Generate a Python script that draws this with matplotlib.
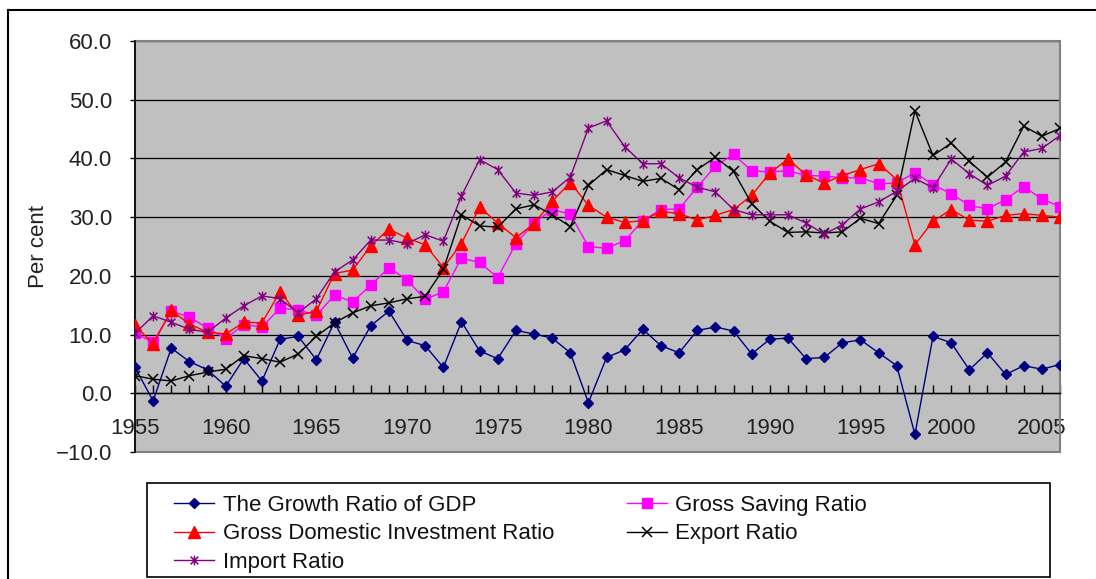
import numpy as np
import matplotlib
matplotlib.use("Agg")
import matplotlib.pyplot as plt
from matplotlib.path import Path
from matplotlib.patches import Rectangle
from matplotlib.lines import Line2D
from matplotlib.ticker import FuncFormatter, MultipleLocator

# ── Data ─────────────────────────────────────────────────────────────────────
years = list(range(1955, 2007))

gdp_growth = [4.4, -1.3, 7.7, 5.4, 4.0, 1.2, 5.9, 2.1, 9.2, 9.7,
              5.7, 12.1, 6.0, 11.5, 14.0, 9.0, 8.1, 4.4, 12.2, 7.2,
              5.9, 10.7, 10.1, 9.4, 6.9, -1.6, 6.1, 7.4, 10.9, 8.1,
              6.9, 10.7, 11.3, 10.6, 6.7, 9.2, 9.4, 5.9, 6.1, 8.6,
              9.1, 6.9, 4.7, -7.0, 9.7, 8.6, 4.0, 6.9, 3.2, 4.7,
              4.1, 4.9]

saving = [10.2, 8.7, 14.0, 13.0, 11.1, 9.3, 11.7, 11.3, 14.5, 14.2,
          13.3, 16.7, 15.6, 18.4, 21.4, 19.3, 16.0, 17.3, 23.0, 22.3,
          19.7, 25.5, 29.0, 31.3, 30.5, 25.0, 24.7, 26.0, 29.4, 31.3,
          31.4, 35.1, 38.7, 40.7, 37.9, 37.7, 37.9, 37.1, 37.0, 36.7,
          36.7, 35.7, 35.8, 37.6, 35.5, 34.0, 32.0, 31.4, 33.0, 35.2,
          33.1, 31.8]

investment = [11.6, 8.4, 14.1, 11.8, 10.4, 10.1, 12.1, 12.0, 17.3, 13.3,
              14.0, 20.4, 21.0, 25.1, 28.0, 26.4, 25.3, 21.4, 25.5, 31.7,
              29.0, 26.5, 28.9, 32.7, 35.9, 32.0, 30.0, 29.1, 29.4, 31.0,
              30.6, 29.5, 30.3, 31.3, 33.7, 37.5, 39.9, 37.2, 35.8, 37.1,
              38.1, 39.1, 36.4, 25.3, 29.3, 31.3, 29.5, 29.3, 30.3, 30.6,
              30.3, 30.0]

export = [3.0, 2.4, 2.1, 3.0, 3.6, 4.1, 6.4, 5.9, 5.3, 6.7,
          9.7, 12.0, 13.7, 14.9, 15.4, 16.1, 16.5, 21.1, 30.4, 28.5,
          28.3, 31.4, 32.1, 30.4, 28.4, 35.4, 38.1, 37.1, 36.1, 36.6,
          34.7, 38.1, 40.2, 37.8, 32.3, 29.3, 27.4, 27.5, 27.3, 27.5,
          29.8, 28.9, 33.7, 48.1, 40.5, 42.6, 39.5, 36.8, 39.4, 45.5,
          43.8, 45.1]

imports = [10.2, 13.2, 12.1, 10.9, 10.4, 12.8, 14.9, 16.6, 16.1, 13.7,
           16.1, 20.7, 22.7, 26.1, 26.1, 25.5, 27.0, 25.9, 33.6, 39.8,
           38.1, 34.1, 33.7, 34.3, 36.8, 45.2, 46.4, 42.0, 39.1, 39.1,
           36.7, 35.1, 34.3, 31.3, 30.4, 30.4, 30.4, 29.0, 27.1, 28.7,
           31.4, 32.6, 34.4, 36.6, 35.0, 39.9, 37.4, 35.4, 37.0, 41.1,
           41.7, 43.9]

labels = ["The Growth Ratio of GDP", "Gross Saving Ratio",
          "Gross Domestic Investment Ratio", "Export Ratio", "Import Ratio"]

# ── Style ────────────────────────────────────────────────────────────────────
plt.rcParams["font.family"] = ["Liberation Sans", "DejaVu Sans"]
plt.rcParams["font.size"] = 16

# Excel-style asterisk: an x with a vertical bar through it
asterisk = Path([(-1, -1), (1, 1), (-1, 1), (1, -1), (0, -1.25), (0, 1.25)],
                [Path.MOVETO, Path.LINETO, Path.MOVETO, Path.LINETO,
                 Path.MOVETO, Path.LINETO])

fig = plt.figure(figsize=(10.96, 5.79), dpi=100)
ax = fig.add_axes([135 / 1096, 1 - 452 / 579, 925 / 1096, 411 / 579])
ax.set_facecolor("#C0C0C0")

lw = 1.0
h_gdp, = ax.plot(years, gdp_growth, color="#000080", lw=lw, marker="D",
                 ms=5.5, label=labels[0], zorder=3)
h_sav, = ax.plot(years, saving, color="#FF00FF", lw=lw, marker="s",
                 ms=6.5, label=labels[1], zorder=3)
h_inv, = ax.plot(years, investment, color="#FF0000", lw=lw, marker="^",
                 ms=8, label=labels[2], zorder=3)
h_exp, = ax.plot(years, export, color="black", lw=lw, marker="x",
                 ms=7, mew=1.1, label=labels[3], zorder=3)
h_imp, = ax.plot(years, imports, color="#800080", lw=lw, marker=asterisk,
                 ms=7, mew=1.1, label=labels[4], zorder=3)

ax.set_xlim(1955, 2006)
ax.set_ylim(-10, 60)

# y axis
ax.yaxis.set_major_locator(MultipleLocator(10))
ax.yaxis.set_major_formatter(
    FuncFormatter(lambda v, p: f"{v:.1f}".replace("-", "\u2212")))
ax.tick_params(axis="y", direction="out", length=3.5, width=1,
               pad=13, colors="black", labelcolor="#222222")
ax.yaxis.grid(True, color="black", lw=0.9)
ax.set_axisbelow(True)
ax.set_ylabel("Per cent", labelpad=5, color="#222222")

# x axis sits on y = 0
ax.spines["bottom"].set_position(("data", 0))
ax.spines["bottom"].set_linewidth(1)
ax.xaxis.set_major_locator(MultipleLocator(5))
ax.xaxis.set_minor_locator(MultipleLocator(1))
ax.tick_params(axis="x", which="both", direction="in", length=5.5, width=1,
               pad=17.5, labelcolor="#222222")
ax.spines["left"].set_linewidth(1.2)
for s in ("top", "right"):
    ax.spines[s].set_visible(False)

# plot-area border
ax.add_patch(Rectangle((0, 0), 1, 1, transform=ax.transAxes, fill=False,
                       edgecolor="#808080", lw=1.5, zorder=1, clip_on=False))

# ── Legend ───────────────────────────────────────────────────────────────────
fig.add_artist(Rectangle((147 / 1096, 1 - 577 / 579), 903 / 1096, 94 / 579,
                         transform=fig.transFigure, fill=False,
                         edgecolor="black", lw=1.2))
fig.legend([h_gdp, h_inv, h_imp, h_sav, h_exp],
           [labels[0], labels[2], labels[4], labels[1], labels[3]],
           ncol=2, loc="upper left", frameon=False,
           bbox_to_anchor=(163 / 1096, 1 - 484 / 579), borderpad=0,
           handlelength=1.8, handletextpad=0.4, columnspacing=3.25,
           labelspacing=0.33, fontsize=16, labelcolor="#111111")

# outer chart border (left and top edges visible)
fig.add_artist(Line2D([8 / 1096, 8 / 1096], [0, 1 - 10 / 579],
                      transform=fig.transFigure, color="black", lw=1.5))
fig.add_artist(Line2D([8 / 1096, 1], [1 - 10 / 579, 1 - 10 / 579],
                      transform=fig.transFigure, color="black", lw=1.5))

plt.savefig("out.png", dpi=100)
